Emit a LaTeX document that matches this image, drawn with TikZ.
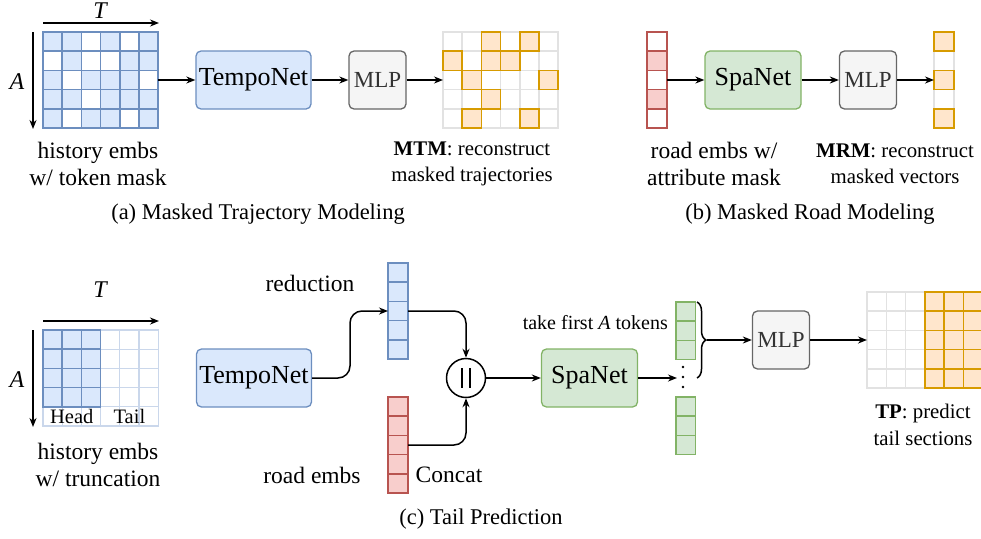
\documentclass[tikz,border=0pt]{standalone}
\usepackage{fontspec}
\setmainfont{Liberation Serif}
\usetikzlibrary{arrows.meta,decorations.pathreplacing,calc}
\definecolor{bfill}{HTML}{DAE8FC}\definecolor{bline}{HTML}{6C8EBF}
\definecolor{gfill}{HTML}{D5E8D4}\definecolor{gline}{HTML}{82B366}
\definecolor{rfill}{HTML}{F8CECC}\definecolor{rline}{HTML}{B85450}
\definecolor{ofill}{HTML}{FFE6CC}\definecolor{oline}{HTML}{D79B00}
\definecolor{mfill}{HTML}{F5F5F5}\definecolor{mline}{HTML}{666666}
\definecolor{gridgray}{HTML}{E2E2E2}\definecolor{lblue}{HTML}{CAD7EB}
\tikzset{
 arr/.style={line width=1.5pt,-{Stealth[length=9pt,width=7pt]}},
 netbox/.style={draw,rounded corners=5pt,line width=1.3pt,minimum height=58pt,inner sep=0pt,font=\fontsize{26}{30}\selectfont},
 tempo/.style={netbox,fill=bfill,draw=bline,minimum width=115pt},
 spa/.style={netbox,fill=gfill,draw=gline,minimum width=96pt},
 mlpbox/.style={netbox,fill=mfill,draw=mline,minimum width=57pt,text=black!80,font=\fontsize{23}{27}\selectfont},
 lbl/.style={font=\fontsize{23.5}{27}\selectfont,align=center,inner sep=0pt},
 captxt/.style={font=\fontsize{22.5}{27}\selectfont,align=center,inner sep=0pt},
 slbl/.style={font=\fontsize{20.8}{26.5}\selectfont,align=center,inner sep=0pt},
 region/.style={inner sep=0pt,anchor=north west,outer sep=0pt},
 bcell/.style={draw=bline,fill=bfill,line width=1.5pt},
 wcell/.style={draw=bline,fill=white,line width=1.5pt},
 lcell/.style={draw=lblue,fill=white,line width=1.3pt},
 ocell/.style={draw=oline,fill=ofill,line width=1.5pt},
 gcell/.style={draw=gridgray,fill=white,line width=1.5pt},
 rcell/.style={draw=rline,fill=rfill,line width=1.5pt},
 rwcell/.style={draw=rline,fill=white,line width=1.5pt},
 grcell/.style={draw=gline,fill=gfill,line width=1.5pt},
}
\begin{document}
\begin{tikzpicture}[x=1pt,y=-1pt]
\useasboundingbox (0,0) rectangle (981,538);
\def\cs{19.2}
% ---------------- (a) ----------------
\coordinate (tA1) at (43,23); \coordinate (tA2) at (159,23);
\draw[arr] (tA1) -- (tA2);
\node[font=\fontsize{24}{28}\selectfont\itshape] (tlab1) at (100,11) {T};
\coordinate (aA1) at (33,32); \coordinate (aA2) at (33,129);
\draw[arr] (aA1) -- (aA2);
\node[font=\fontsize{24}{28}\selectfont\itshape] (alab1) at (17,82) {A};
\foreach \c in {1,...,6}{\foreach \r in {1,...,5}{
  \draw[bcell] ({43+(\c-1)*\cs},{32+(\r-1)*\cs}) rectangle ++(\cs,\cs);}}
\foreach \c/\r in {3/1,5/1,1/2,3/2,4/2,2/3,6/3,3/4,2/5,5/5}{
  \draw[wcell] ({43+(\c-1)*\cs},{32+(\r-1)*\cs}) rectangle ++(\cs,\cs);}
\node[region,minimum width=115.2pt,minimum height=96pt] (g1) at (43,32) {};
\node[tempo] (t1) at (253.5,80) {TempoNet};
\node[mlpbox] (m1) at (377.5,80) {MLP};
\foreach \c in {1,...,6}{\foreach \r in {1,...,5}{
  \draw[gcell] ({443+(\c-1)*\cs},{32+(\r-1)*\cs}) rectangle ++(\cs,\cs);}}
\foreach \c/\r in {3/1,5/1,1/2,3/2,4/2,2/3,6/3,3/4,2/5,5/5}{
  \draw[ocell] ({443+(\c-1)*\cs},{32+(\r-1)*\cs}) rectangle ++(\cs,\cs);}
\node[region,minimum width=115.2pt,minimum height=96pt] (g2) at (443,32) {};
\draw[arr] (g1.east) -- (t1.west);
\draw[arr] (t1.east) -- (m1.west);
\draw[arr] (m1.east) -- (g2.west);
\node[lbl] (l1) at (98,164) {history embs\\w/ token mask};
\node[slbl] (l2) at (472,164) {\textbf{MTM}: reconstruct\\masked trajectories};
\node[captxt] (capa) at (258,214) {(a) Masked Trajectory Modeling};
% ---------------- (b) ----------------
\foreach \r in {1,...,5}{\draw[rwcell] (647,{32+(\r-1)*\cs}) rectangle ++(20,\cs);}
\foreach \r in {2,4}{\draw[rcell] (647,{32+(\r-1)*\cs}) rectangle ++(20,\cs);}
\node[region,minimum width=20pt,minimum height=96pt] (rv) at (647,32) {};
\node[spa] (s1) at (753,80) {SpaNet};
\node[mlpbox] (m2) at (868,80) {MLP};
\foreach \r in {1,...,5}{\draw[gcell] (934,{32+(\r-1)*\cs}) rectangle ++(20,\cs);}
\foreach \r in {1,3,5}{\draw[ocell] (934,{32+(\r-1)*\cs}) rectangle ++(20,\cs);}
\node[region,minimum width=20pt,minimum height=96pt] (ov) at (934,32) {};
\draw[arr] (rv.east) -- (s1.west);
\draw[arr] (s1.east) -- (m2.west);
\draw[arr] (m2.east) -- (ov.west);
\node[lbl] (l3) at (714,164) {road embs w/\\attribute mask};
\node[slbl] (l4) at (895,164) {\textbf{MRM}: reconstruct\\masked vectors};
\node[captxt] (capb) at (810,214) {(b) Masked Road Modeling};
% ---------------- (c) ----------------
\coordinate (tB1) at (43,321); \coordinate (tB2) at (159,321);
\draw[arr] (tB1) -- (tB2);
\node[font=\fontsize{24}{28}\selectfont\itshape] (tlab2) at (100,290) {T};
\coordinate (aB1) at (33,330); \coordinate (aB2) at (33,427);
\draw[arr] (aB1) -- (aB2);
\node[font=\fontsize{24}{28}\selectfont\itshape] (alab2) at (17,380) {A};
\foreach \c in {1,...,6}{\foreach \r in {1,...,5}{
  \draw[lcell] ({43+(\c-1)*\cs},{330+(\r-1)*\cs}) rectangle ++(\cs,\cs);}}
\foreach \c in {1,...,3}{\foreach \r in {1,...,4}{
  \draw[bcell] ({43+(\c-1)*\cs},{330+(\r-1)*\cs}) rectangle ++(\cs,\cs);}}
\node[region,minimum width=115.2pt,minimum height=96pt] (g3) at (43,330) {};
\node[font=\fontsize{20.5}{24}\selectfont,inner sep=0pt] (head) at (71.8,416) {Head};
\node[font=\fontsize{20.5}{24}\selectfont,inner sep=0pt] (tail) at (129.4,416) {Tail};
\node[tempo] (t2) at (254,378) {TempoNet};
\foreach \r in {1,...,5}{\draw[bcell] (388,{263+(\r-1)*\cs}) rectangle ++(20,\cs);}
\node[region,minimum width=20pt,minimum height=96pt] (bv) at (388,263) {};
\foreach \r in {1,...,5}{\draw[rcell] (388,{397+(\r-1)*\cs}) rectangle ++(20,\cs);}
\node[region,minimum width=20pt,minimum height=96pt] (rv2) at (388,397) {};
\node[draw,circle,line width=1.5pt,minimum size=39pt,inner sep=0pt,fill=white] (cc) at (466,378) {};
\draw[line width=1.5pt] ($(cc.center)+(-4,-10)$) -- ($(cc.center)+(-4,10)$);
\draw[line width=1.5pt] ($(cc.center)+(4,-10)$) -- ($(cc.center)+(4,10)$);
\draw[arr,rounded corners=12pt] (t2.east) -- (350,378) -- (350,311) -- (bv.west);
\draw[arr,rounded corners=12pt] (bv.east) -| (cc.north);
\draw[arr,rounded corners=12pt] (rv2.east) -| (cc.south);
\node[lbl] (red) at (310,283) {reduction};
\node[lbl] (roademb) at (312,475) {road embs};
\node[lbl] (concat) at (449,475) {Concat};
\node[spa] (s2) at (589.5,378) {SpaNet};
\draw[arr] (cc.east) -- (s2.west);
\coordinate (dd) at (677,378);
\draw[arr] (s2.east) -- (dd);
\foreach \yy in {367,377,387}{\fill (683,\yy) circle (1.4pt);}
\foreach \r in {1,...,3}{\draw[grcell] (676,{302+(\r-1)*\cs}) rectangle ++(19.5,\cs);}
\node[region,minimum width=19.5pt,minimum height=57.6pt] (gv1) at (676,302) {};
\foreach \r in {1,...,3}{\draw[grcell] (676,{397+(\r-1)*\cs}) rectangle ++(19.5,\cs);}
\node[region,minimum width=19.5pt,minimum height=57.6pt] (gv2) at (676,397) {};
\node[font=\fontsize{20}{24}\selectfont,anchor=east,inner sep=0pt] (take) at (668,323) {take first \textit{A} tokens};
\draw[line width=1.5pt,decorate,decoration={brace,amplitude=9pt,aspect=0.5}] (697,302) -- (697,378);
\coordinate (bt) at (707,340);
\node[mlpbox] (m3) at (781,340) {MLP};
\draw[arr] (bt) -- (m3.west);
\def\cw{19.3}
\foreach \c in {1,...,6}{\foreach \r in {1,...,5}{
  \draw[gcell] ({867+(\c-1)*\cw},{292+(\r-1)*\cs}) rectangle ++(\cw,\cs);}}
\foreach \c in {4,...,6}{\foreach \r in {1,...,5}{
  \draw[ocell] ({867+(\c-1)*\cw},{292+(\r-1)*\cs}) rectangle ++(\cw,\cs);}}
\node[region,minimum width=115.8pt,minimum height=96pt] (g4) at (867,292) {};
\draw[arr] (m3.east) -- (g4.west);
\node[slbl] (l5) at (923,425) {\textbf{TP}: predict\\tail sections};
\node[lbl] (l6) at (98,465) {history embs\\w/ truncation};
\node[captxt] (capc) at (481,519) {(c) Tail Prediction};
\end{tikzpicture}
\end{document}
